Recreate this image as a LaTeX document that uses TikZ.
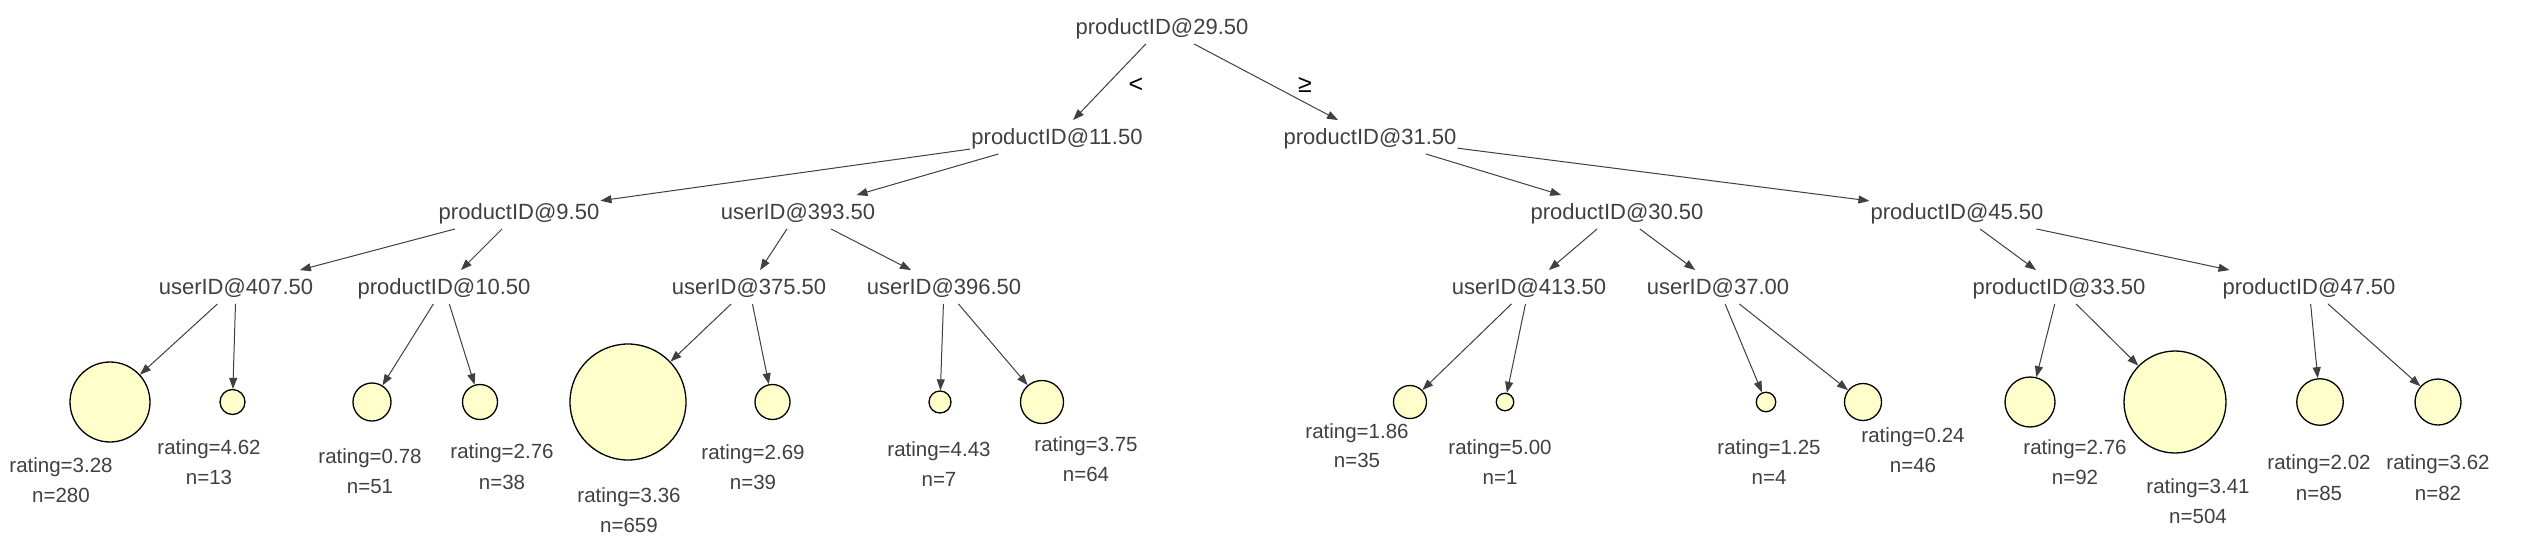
\documentclass[tikz,border=0pt]{standalone}
\usepackage{fontspec}
\setmainfont{Liberation Sans}
\usetikzlibrary{arrows.meta}
\definecolor{txt}{HTML}{404040}
\definecolor{leaffill}{HTML}{FFFFCC}
\begin{document}
\begin{tikzpicture}[x=1pt,y=-1pt,
  splitnode/.style={font=\fontsize{22}{26}\selectfont, text=txt, text height=15.5pt, text depth=0pt, inner xsep=1pt, inner ysep=9pt, shape=rectangle},
  leafnode/.style={circle, draw=black, fill=leaffill, line width=1.3pt, inner sep=0pt, minimum size=#1},
  leafnode/.default=20pt,
  leaflab/.style={font=\fontsize{20.5}{24}\selectfont, text=txt, text height=14.5pt, text depth=0pt, inner sep=0pt},
  conn/.style={draw=txt, line width=1pt, -{Triangle[length=11pt,width=8pt]}},
  cond/.style={font=\fontsize{25}{29}\selectfont, text=black, inner sep=0pt}
]
\fill[white] (0,0) rectangle (2525,550);
\useasboundingbox (0,0) rectangle (2525,550);

% split nodes
\node[splitnode] (root) at (1162,27) {productID@29.50};
\node[splitnode] (p11) at (1057,137) {productID@11.50};
\node[splitnode] (p31) at (1370,137) {productID@31.50};
\node[splitnode] (p9) at (519,212) {productID@9.50};
\node[splitnode] (u393) at (798,212) {userID@393.50};
\node[splitnode] (p30) at (1617,212) {productID@30.50};
\node[splitnode] (p45) at (1957,212) {productID@45.50};
\node[splitnode] (u407) at (236,287) {userID@407.50};
\node[splitnode] (p10) at (444,287) {productID@10.50};
\node[splitnode] (u375) at (749,287) {userID@375.50};
\node[splitnode] (u396) at (944,287) {userID@396.50};
\node[splitnode] (u413) at (1529,287) {userID@413.50};
\node[splitnode] (u37) at (1718,287) {userID@37.00};
\node[splitnode] (p33) at (2059,287) {productID@33.50};
\node[splitnode] (p47) at (2309,287) {productID@47.50};

% condition labels
\node[cond] (lt) at (1136,85) {<};
\node[cond] (ge) at (1305,85) {≥};

% leaves
\node[leafnode=80pt] (L1) at (110,402) {};
\node[leafnode=25pt] (L2) at (232.5,402) {};
\node[leafnode=38pt] (L3) at (372,402) {};
\node[leafnode=35pt] (L4) at (480,402) {};
\node[leafnode=116pt] (L5) at (628,402) {};
\node[leafnode=35pt] (L6) at (772.5,402) {};
\node[leafnode=22pt] (L7) at (940,402) {};
\node[leafnode=43pt] (L8) at (1042,402) {};
\node[leafnode=33pt] (L9) at (1410,402) {};
\node[leafnode=17.5pt] (L10) at (1505,402) {};
\node[leafnode=19.5pt] (L11) at (1766,402) {};
\node[leafnode=37pt] (L12) at (1863,402) {};
\node[leafnode=50pt] (L13) at (2030,402) {};
\node[leafnode=102pt] (L14) at (2175,402) {};
\node[leafnode=46.5pt] (L15) at (2320,402) {};
\node[leafnode=46pt] (L16) at (2438,402) {};

% leaf labels
\node[leaflab] (r1) at (61,465) {rating=3.28};
\node[leaflab] (n1) at (61,495) {n=280};
\node[leaflab] (r2) at (209,447) {rating=4.62};
\node[leaflab] (n2) at (209,477) {n=13};
\node[leaflab] (r3) at (370,456) {rating=0.78};
\node[leaflab] (n3) at (370,486) {n=51};
\node[leaflab] (r4) at (502,451) {rating=2.76};
\node[leaflab] (n4) at (502,482) {n=38};
\node[leaflab] (r5) at (629,495) {rating=3.36};
\node[leaflab] (n5) at (629,525) {n=659};
\node[leaflab] (r6) at (753,452) {rating=2.69};
\node[leaflab] (n6) at (753,482) {n=39};
\node[leaflab] (r7) at (939,449) {rating=4.43};
\node[leaflab] (n7) at (939,479) {n=7};
\node[leaflab] (r8) at (1086,444) {rating=3.75};
\node[leaflab] (n8) at (1086,474) {n=64};
\node[leaflab] (r9) at (1357,431) {rating=1.86};
\node[leaflab] (n9) at (1357,460) {n=35};
\node[leaflab] (r10) at (1500,447) {rating=5.00};
\node[leaflab] (n10) at (1500,477) {n=1};
\node[leaflab] (r11) at (1769,447) {rating=1.25};
\node[leaflab] (n11) at (1769,477) {n=4};
\node[leaflab] (r12) at (1913,435) {rating=0.24};
\node[leaflab] (n12) at (1913,465) {n=46};
\node[leaflab] (r13) at (2075,447) {rating=2.76};
\node[leaflab] (n13) at (2075,477) {n=92};
\node[leaflab] (r14) at (2198,486) {rating=3.41};
\node[leaflab] (n14) at (2198,516) {n=504};
\node[leaflab] (r15) at (2319,462) {rating=2.02};
\node[leaflab] (n15) at (2319,493) {n=85};
\node[leaflab] (r16) at (2438,462) {rating=3.62};
\node[leaflab] (n16) at (2438,493) {n=82};

% connectors
\draw[conn] (root) -- (p11);
\draw[conn] (root) -- (p31);
\draw[conn] (p11) -- (p9);
\draw[conn] (p11) -- (u393);
\draw[conn] (p31) -- (p30);
\draw[conn] (p31) -- (p45);
\draw[conn] (p9) -- (u407);
\draw[conn] (p9) -- (p10);
\draw[conn] (u393) -- (u375);
\draw[conn] (u393) -- (u396);
\draw[conn] (p30) -- (u413);
\draw[conn] (p30) -- (u37);
\draw[conn] (p45) -- (p33);
\draw[conn] (p45) -- (p47);
\draw[conn] (u407) -- (L1);
\draw[conn] (u407) -- (L2);
\draw[conn] (p10) -- (L3);
\draw[conn] (p10) -- (L4);
\draw[conn] (u375) -- (L5);
\draw[conn] (u375) -- (L6);
\draw[conn] (u396) -- (L7);
\draw[conn] (u396) -- (L8);
\draw[conn] (u413) -- (L9);
\draw[conn] (u413) -- (L10);
\draw[conn] (u37) -- (L11);
\draw[conn] (u37) -- (L12);
\draw[conn] (p33) -- (L13);
\draw[conn] (p33) -- (L14);
\draw[conn] (p47) -- (L15);
\draw[conn] (p47) -- (L16);
\end{tikzpicture}
\end{document}
